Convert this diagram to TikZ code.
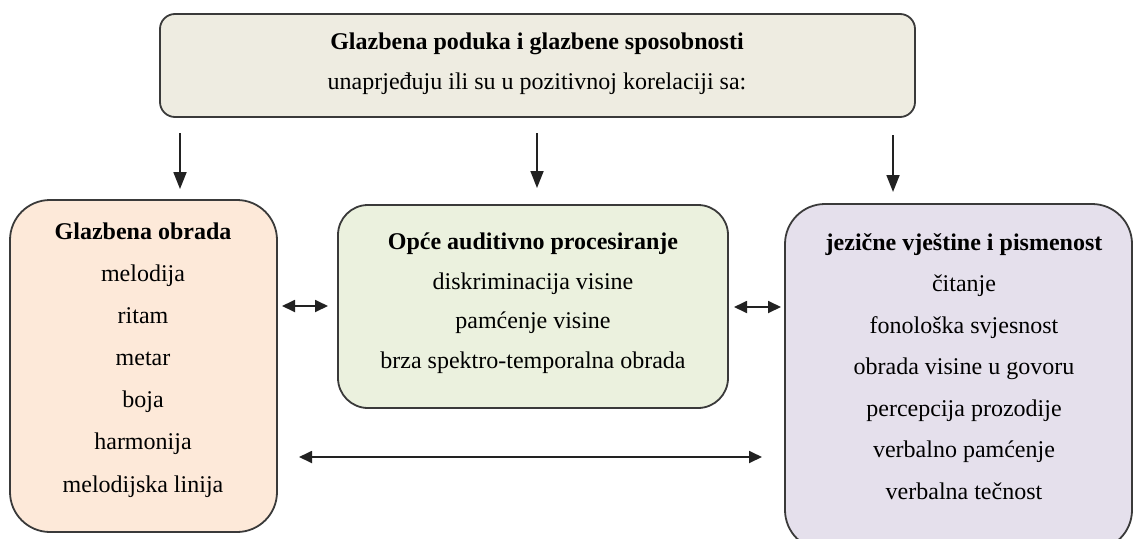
\documentclass[tikz,border=0pt]{standalone}
\usepackage{fontspec}
\setmainfont{Liberation Serif}
\usetikzlibrary{arrows.meta}
\definecolor{bordc}{HTML}{3A3A3A}
\definecolor{topfill}{HTML}{EEECE1}
\definecolor{leftfill}{HTML}{FDE9D9}
\definecolor{midfill}{HTML}{EBF1DE}
\definecolor{rightfill}{HTML}{E5E0EC}
\definecolor{arrc}{HTML}{222222}
\tikzset{
  boxshape/.style={draw=bordc, line width=1.8pt, inner sep=0pt},
  boxtext/.style={align=center, inner sep=0pt, text=black},
  arr/.style={draw=arrc, line width=1.8pt, -{Triangle[length=17pt,width=13pt]}},
  darr/.style={draw=arrc, line width=1.8pt, {Triangle[length=13pt,width=12pt]}-{Triangle[length=13pt,width=12pt]}},
}
\begin{document}
\begin{tikzpicture}[x=1pt,y=-1pt]
\clip (0,0) rectangle (1134,538);
\fill[white] (0,0) rectangle (1134,538);
% boxes
\node[boxshape, fill=topfill, rounded corners=15pt, minimum width=755pt, minimum height=103pt] (top) at (537.5,65.5) {};
\node[boxshape, fill=leftfill, rounded corners=40pt, minimum width=267pt, minimum height=332pt] (left) at (143.5,366) {};
\node[boxshape, fill=midfill, rounded corners=30pt, minimum width=390pt, minimum height=203pt] (mid) at (533,306.5) {};
\node[boxshape, fill=rightfill, rounded corners=40pt, minimum width=347pt, minimum height=346pt] (right) at (958.5,377) {};
% texts (anchor=base is the baseline of the last line)
\node[boxtext, font=\fontsize{24}{40}\selectfont, anchor=base] (toptext) at (537,89)
  {\textbf{Glazbena poduka i glazbene sposobnosti}\\unaprjeđuju ili su u pozitivnoj korelaciji sa:};
\node[boxtext, font=\fontsize{24}{42.1}\selectfont, anchor=base] (lefttext) at (143,492)
  {\textbf{Glazbena obrada}\\melodija\\ritam\\metar\\boja\\harmonija\\melodijska linija};
\node[boxtext, font=\fontsize{24}{39.5}\selectfont, anchor=base] (midtext) at (533,368)
  {\textbf{Opće auditivno procesiranje}\\diskriminacija visine\\pamćenje visine\\brza spektro-temporalna obrada};
\node[boxtext, font=\fontsize{24}{41.5}\selectfont, anchor=base] (righttext) at (964,499)
  {\textbf{jezične vještine i pismenost}\\čitanje\\fonološka svjesnost\\obrada visine u govoru\\percepcija prozodije\\verbalno pamćenje\\verbalna tečnost};
% arrow end points
\coordinate (a1s) at (180,133);
\coordinate (a1e) at (180,189);
\coordinate (a2s) at (537,133);
\coordinate (a2e) at (537,188);
\coordinate (a3s) at (893,135);
\coordinate (a3e) at (893,192);
\coordinate (d1s) at (282,306);
\coordinate (d1e) at (328,306);
\coordinate (d2s) at (734,307);
\coordinate (d2e) at (781,307);
\coordinate (d3s) at (299,457);
\coordinate (d3e) at (762,457);
% arrows
\draw[arr] (a1s) -- (a1e);
\draw[arr] (a2s) -- (a2e);
\draw[arr] (a3s) -- (a3e);
\draw[darr] (d1s) -- (d1e);
\draw[darr] (d2s) -- (d2e);
\draw[darr] (d3s) -- (d3e);
\end{tikzpicture}
\end{document}
